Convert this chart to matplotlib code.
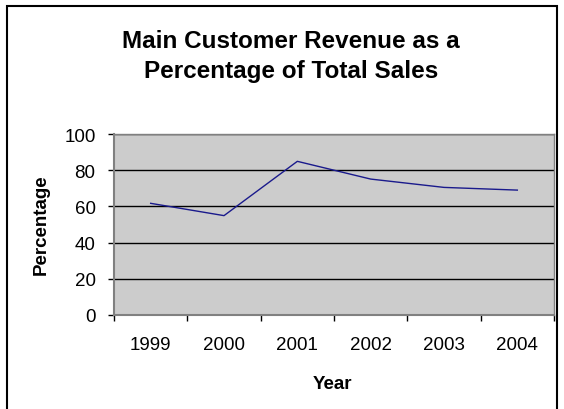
import matplotlib
matplotlib.use("Agg")
import matplotlib.pyplot as plt
from matplotlib.patches import Rectangle

plt.rcParams['font.family'] = ['Liberation Sans', 'DejaVu Sans']

years = ["1999", "2000", "2001", "2002", "2003", "2004"]
percentage = [61.7, 54.9, 84.9, 75.1, 70.5, 69.0]
y_ticks = [0, 20, 40, 60, 80, 100]

W, H = 564, 410
fig = plt.figure(figsize=(W / 100, H / 100), dpi=100)
fig.patch.set_facecolor('white')

# Outer chart frame
fig.patches.append(Rectangle((7 / W, -0.1), 550 / W, 1.1 - 7 / H,
                             transform=fig.transFigure, fill=False,
                             edgecolor='black', linewidth=1.5, zorder=0))

ax = fig.add_axes([114 / W, 1 - 316 / H, 440 / W, 181 / H])
ax.set_facecolor('#CCCCCC')

x = list(range(len(years)))
ax.plot(x, percentage, color='#1A1A8C', linewidth=1.0, zorder=3)

ax.set_xlim(-0.5, len(years) - 0.5)
ax.set_ylim(0, 100)

ax.set_yticks(y_ticks)
ax.set_yticklabels([str(v) for v in y_ticks], fontsize=13.5)
ax.yaxis.grid(True, color='black', linewidth=1.0, zorder=1)
ax.set_axisbelow(True)

ax.set_xticks([i - 0.5 for i in range(len(years) + 1)])
ax.set_xticklabels([])
ax.set_xticks(x, minor=True)
ax.set_xticklabels(years, minor=True, fontsize=13.5)
ax.tick_params(axis='x', which='minor', length=0, pad=15)
ax.tick_params(axis='x', which='major', length=4.3, width=1, color='black', direction='out')
ax.tick_params(axis='y', length=4.3, width=1, color='black', direction='out', pad=9)

for side in ['top', 'right']:
    ax.spines[side].set_color('#808080')
    ax.spines[side].set_linewidth(1.0)
for side in ['left', 'bottom']:
    ax.spines[side].set_color('#808080')
    ax.spines[side].set_linewidth(1.5)

fig.text(291 / W, 1 - 48.3 / H, "Main Customer Revenue as a",
         ha='center', va='baseline', fontsize=17.5, fontweight='bold')
fig.text(291 / W, 1 - 77.7 / H, "Percentage of Total Sales",
         ha='center', va='baseline', fontsize=17.5, fontweight='bold')
fig.text(332 / W, 1 - 389.3 / H, "Year", ha='center', va='baseline',
         fontsize=13.5, fontweight='bold')
fig.text(41 / W, 1 - 225 / H, "Percentage", ha='center', va='center', rotation=90,
         fontsize=13.5, fontweight='bold')

fig.savefig("out.png", dpi=100)
